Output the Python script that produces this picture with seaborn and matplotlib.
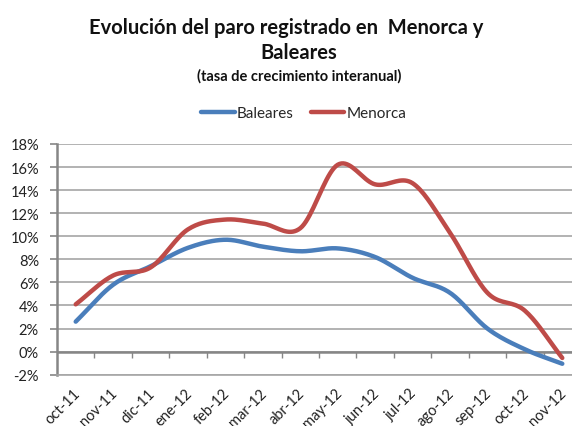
import numpy as np
import pandas as pd
import matplotlib
matplotlib.use("Agg")
import matplotlib.pyplot as plt
import matplotlib.transforms as mtransforms
import seaborn as sns
from matplotlib.ticker import FuncFormatter, FixedLocator

meses = ["oct-11", "nov-11", "dic-11", "ene-12", "feb-12", "mar-12", "abr-12",
         "may-12", "jun-12", "jul-12", "ago-12", "sep-12", "oct-12", "nov-12"]
baleares = [2.6, 5.8, 7.4, 9.0, 9.7, 9.1, 8.7, 8.95, 8.2, 6.4, 5.1, 2.0, 0.2, -1.05]
menorca = [4.1, 6.6, 7.3, 10.6, 11.45, 11.1, 10.7, 16.2, 14.5, 14.6, 10.3, 5.1, 3.55, -0.55]

colores = {"Baleares": "#4A7EBB", "Menorca": "#BE4B48"}


def suavizar(y, n=20):
    # curva tipo Catmull-Rom, como la linea suavizada de Excel
    y = np.asarray(y, dtype=float)
    p = np.concatenate([[2 * y[0] - y[1]], y, [2 * y[-1] - y[-2]]])
    xs, ys = [], []
    for i in range(len(y) - 1):
        p0, p1, p2, p3 = p[i], p[i + 1], p[i + 2], p[i + 3]
        t = np.linspace(0, 1, n, endpoint=False)
        seg = 0.5 * ((2 * p1) + (-p0 + p2) * t
                     + (2 * p0 - 5 * p1 + 4 * p2 - p3) * t ** 2
                     + (-p0 + 3 * p1 - 3 * p2 + p3) * t ** 3)
        xs.extend(i + t)
        ys.extend(seg)
    xs.append(len(y) - 1)
    ys.append(y[-1])
    return np.array(xs), np.array(ys)


filas = []
for nombre, serie in [("Baleares", baleares), ("Menorca", menorca)]:
    xs, ys = suavizar(serie)
    filas.append(pd.DataFrame({"x": xs, "valor": ys, "serie": nombre}))
df = pd.concat(filas, ignore_index=True)

sns.set_style("white")
plt.rcParams["font.family"] = ["Lato", "DejaVu Sans"]

fig = plt.figure(figsize=(5.72, 4.27), dpi=100)
ax = fig.add_axes([57 / 572, 1 - 375.7 / 427, 524 / 572, 230.7 / 427])

sns.lineplot(data=df, x="x", y="valor", hue="serie", palette=colores,
             linewidth=3.2, ax=ax, sort=False)

ax.set_ylim(-2, 18)
ax.set_xlim(-0.5, len(meses) - 0.5)
ax.set_yticks(np.arange(-2, 19, 2))
ax.yaxis.set_major_formatter(FuncFormatter(lambda v, _: f"{v:.0f}%"))
ax.yaxis.grid(True, color="#a6a6a6", linewidth=1.2)
ax.set_axisbelow(True)
ax.axhline(0, color="#868686", linewidth=1.8, zorder=1)

ax.set_xticks(range(len(meses)))
ax.set_xticklabels(meses, rotation=45, ha="right", va="center",
                   rotation_mode="anchor")
ax.tick_params(axis="x", length=0, pad=0, labelsize=10.5, colors="#222222")
ax.tick_params(axis="y", length=5, width=1.2, color="#868686", pad=8,
               labelsize=10.5, labelcolor="#222222", left=True)
desplazar = mtransforms.ScaledTranslation(2 / 100, -16 / 100, fig.dpi_scale_trans)
for etiqueta in ax.get_xticklabels():
    etiqueta.set_transform(etiqueta.get_transform() + desplazar)
ax.set_xlabel("")
ax.set_ylabel("")

for lado in ["top", "right"]:
    ax.spines[lado].set_visible(False)
ax.spines["bottom"].set_color("#a6a6a6")
ax.spines["bottom"].set_linewidth(1.2)
ax.spines["left"].set_color("#868686")
ax.spines["left"].set_linewidth(1.8)

# marcas entre categorias sobre la linea del 0%
eje0 = ax.secondary_xaxis(0.1)
eje0.xaxis.set_major_locator(FixedLocator(np.arange(0.5, len(meses) - 1, 1)))
eje0.tick_params(axis="x", length=4, width=1, color="#868686", labelbottom=False)
eje0.spines["bottom"].set_visible(False)

sns.move_legend(ax, "center", bbox_to_anchor=(0.531, 1 - 114 / 427), ncol=2,
                frameon=False, title=None, fontsize=11,
                handlelength=2.2, handletextpad=0.15, columnspacing=1.1,
                bbox_transform=fig.transFigure)

fig.text(286 / 572, 1 - 28 / 427, "Evolución del paro registrado en  Menorca y",
         ha="center", va="center", fontsize=14.5, fontweight="bold",
         color="#111111")
fig.text(299 / 572, 1 - 53 / 427, "Baleares",
         ha="center", va="center", fontsize=14.5, fontweight="bold",
         color="#111111")
fig.text(299 / 572, 1 - 76 / 427, "(tasa de crecimiento interanual)",
         ha="center", va="center", fontsize=10.5, fontweight="bold",
         color="#111111")

fig.savefig("out.png", dpi=100)
